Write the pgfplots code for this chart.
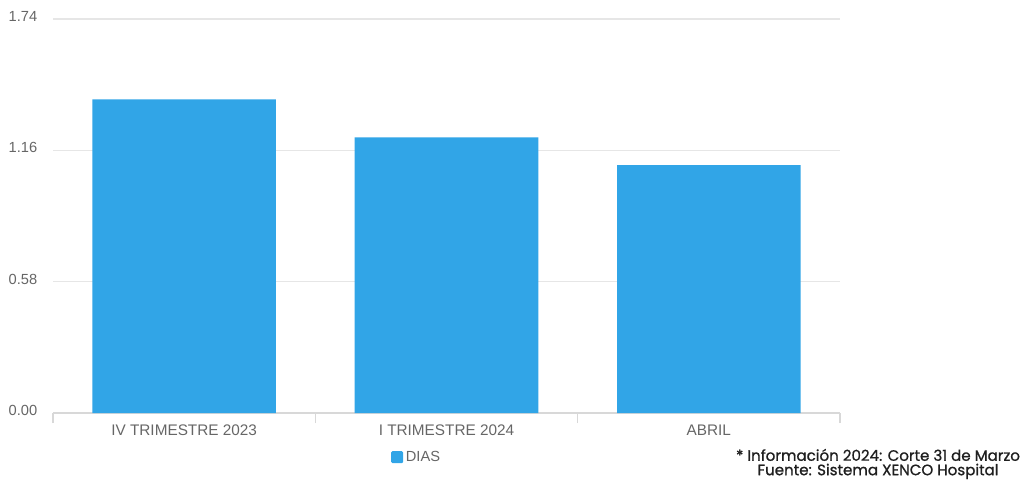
\documentclass[border=0pt]{standalone}
\usepackage{fontspec}
\setmainfont{Liberation Sans}
\newfontfamily\footfont{Poppins}[FakeBold=1]
\usepackage{pgfplots}
\pgfplotsset{compat=1.18}
\definecolor{barblue}{HTML}{31A5E7}
\definecolor{labgray}{HTML}{666666}
\definecolor{gridgray}{HTML}{E6E6E6}
\definecolor{axisgray}{HTML}{D8D8D8}
\begin{document}
\begin{tikzpicture}
\useasboundingbox (0,0) rectangle (775.5pt,360pt);
\begin{axis}[
  at={(39.75pt,50.25pt)}, anchor=south west,
  scale only axis, width=590.25pt, height=295.5pt,
  xmin=-0.5, xmax=2.5, ymin=0, ymax=1.74,
  axis x line*=bottom, axis y line*=left,
  x axis line style={draw=axisgray, line width=0.8pt, -},
  y axis line style={draw=none},
  xtick={0,1,2},
  xticklabels={IV TRIMESTRE 2023, I TRIMESTRE 2024, ABRIL},
  major x tick style={draw=none},
  minor xtick={-0.5,0.5,1.5,2.5},
  minor x tick style={draw=axisgray, line width=0.8pt},
  minor tick length=7.5pt,
  tick align=outside,
  xticklabel style={font=\fontsize{11.5}{13}\selectfont, text=labgray, yshift=-1pt},
  ytick={0,0.58,1.16,1.74},
  yticklabels={0.00,0.58,1.16,1.74},
  ymajorgrids, grid style={draw=gridgray, line width=0.8pt},
  major y tick style={draw=none},
  yticklabel style={font=\fontsize{11}{13}\selectfont, text=labgray, anchor=east, xshift=-4pt, yshift=2pt},
  /pgf/number format/assume math mode=true,
  clip=false,
  legend style={at={(0.4625,-0.112)}, anchor=center, draw=none, fill=none,
    font=\fontsize{11}{12}\selectfont, text=labgray, inner sep=0pt},
  legend image code/.code={\fill[barblue, rounded corners=1pt] (0pt,-4.5pt) rectangle (9pt,4.5pt);},
  legend cell align=left,
]
\addplot[ybar, bar width=0.70, fill=barblue, draw=none] coordinates {(0,1.385) (1,1.217) (2,1.095)};
\addlegendentry{DIAS}
\end{axis}
\node[align=center, font=\footfont\fontsize{11.3}{10.8}\selectfont, text=black!88, inner sep=0pt] at (658.5pt,12pt) {* Información 2024: Corte 31 de Marzo\\Fuente: Sistema XENCO Hospital};
\end{tikzpicture}
\end{document}
